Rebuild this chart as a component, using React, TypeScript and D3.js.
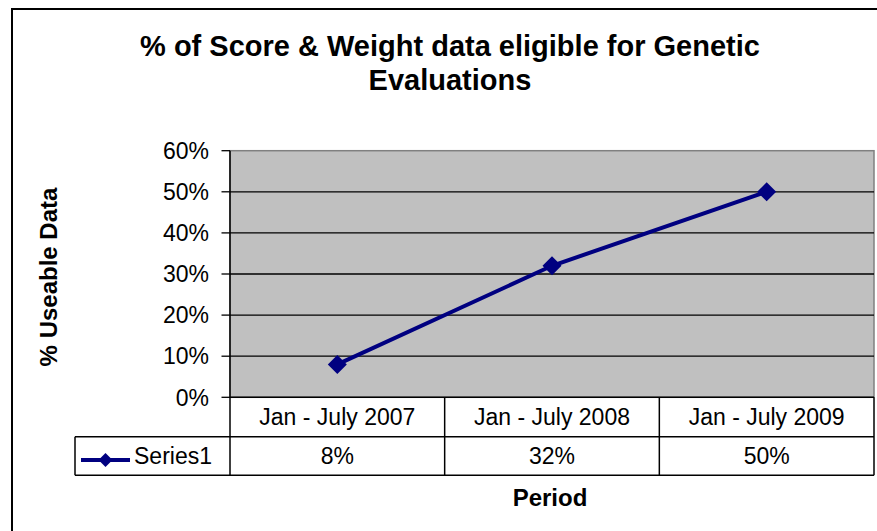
import React from "react";
import * as d3 from "d3";

const categories = ["Jan - July 2007", "Jan - July 2008", "Jan - July 2009"];
const series1 = [0.08, 0.32, 0.5];
const seriesName = "Series1";
const yTicks = [0, 0.1, 0.2, 0.3, 0.4, 0.5, 0.6];
const titleLines = ["% of Score & Weight data eligible for Genetic", "Evaluations"];
const yAxisTitle = "% Useable Data";
const xAxisTitle = "Period";

const W = 877;
const H = 531;
const plotL = 230;
const plotR = 874;
const plotT = 150.7;
const plotB = 397.3;
const row1B = 436.7;
const row2B = 475.3;
const legendL = 75;
const NAVY = "#000080";
const FONT = "'Liberation Sans', Arial, sans-serif";

export default function App() {
  const x = d3.scaleBand<string>().domain(categories).range([plotL, plotR]).padding(0);
  const y = d3.scaleLinear().domain([0, 0.6]).range([plotB, plotT]);
  const fmt = d3.format(".0%");
  const line = d3
    .line<number>()
    .x((_, i) => (x(categories[i]) as number) + x.bandwidth() / 2)
    .y((d) => y(d));
  const diamond = (cx: number, cy: number, r: number) =>
    `M${cx},${cy - r}L${cx + r},${cy}L${cx},${cy + r}L${cx - r},${cy}Z`;
  const colEdges = categories.map((c) => x(c) as number).concat([plotR]);

  return (
    <svg
      width={W}
      height={H}
      style={{ position: "absolute", left: 0, top: 0, background: "#fff" }}
      fontFamily={FONT}
    >
      {/* outer frame */}
      <rect x={12} y={9} width={W + 20} height={H + 20} fill="#fff" stroke="#000" strokeWidth={2} />

      {/* title */}
      {titleLines.map((t, i) => (
        <text key={i} x={450} y={56 + i * 34} textAnchor="middle" fontSize={29} fontWeight="bold" fill="#000">
          {t}
        </text>
      ))}

      {/* plot area */}
      <rect x={plotL} y={plotT} width={plotR - plotL} height={plotB - plotT} fill="#c0c0c0" stroke="#808080" strokeWidth={1.5} />
      {yTicks.slice(1, -1).map((t) => (
        <line key={t} x1={plotL} x2={plotR} y1={y(t)} y2={y(t)} stroke="#000" strokeWidth={1.3} />
      ))}

      {/* y axis */}
      <line x1={plotL} x2={plotL} y1={plotT} y2={row2B} stroke="#000" strokeWidth={1.5} />
      {yTicks.map((t) => (
        <g key={t}>
          <line x1={plotL - 8.5} x2={plotL} y1={y(t)} y2={y(t)} stroke="#000" strokeWidth={1.3} />
          <text x={209} y={y(t)} dy="0.36em" textAnchor="end" fontSize={23} fill="#000">
            {fmt(t)}
          </text>
        </g>
      ))}

      {/* y axis title */}
      <text
        transform={`translate(57,${277}) rotate(-90)`}
        textAnchor="middle"
        fontSize={24}
        fontWeight="bold"
        fill="#000"
      >
        {yAxisTitle}
      </text>

      {/* series line */}
      <path d={line(series1) || ""} fill="none" stroke={NAVY} strokeWidth={4} />
      {series1.map((v, i) => (
        <path
          key={i}
          d={diamond((x(categories[i]) as number) + x.bandwidth() / 2, y(v), 9.5)}
          fill={NAVY}
        />
      ))}

      {/* data table */}
      <line x1={plotL} x2={plotR} y1={plotB} y2={plotB} stroke="#000" strokeWidth={1.5} />
      <line x1={legendL} x2={plotR} y1={row1B} y2={row1B} stroke="#000" strokeWidth={1.5} />
      <line x1={legendL} x2={plotR} y1={row2B} y2={row2B} stroke="#000" strokeWidth={1.5} />
      <line x1={legendL} x2={legendL} y1={row1B} y2={row2B} stroke="#000" strokeWidth={1.5} />
      {colEdges.slice(1).map((cx, i) => (
        <line key={i} x1={cx} x2={cx} y1={plotB} y2={row2B} stroke="#000" strokeWidth={1.5} />
      ))}
      {categories.map((c, i) => (
        <g key={c}>
          <text
            x={(x(c) as number) + x.bandwidth() / 2}
            y={(plotB + row1B) / 2}
            dy="0.36em"
            textAnchor="middle"
            fontSize={23}
            fill="#000"
          >
            {c}
          </text>
          <text
            x={(x(c) as number) + x.bandwidth() / 2}
            y={(row1B + row2B) / 2}
            dy="0.36em"
            textAnchor="middle"
            fontSize={23}
            fill="#000"
          >
            {fmt(series1[i])}
          </text>
        </g>
      ))}

      {/* legend key */}
      <line x1={81} x2={130} y1={460} y2={460} stroke={NAVY} strokeWidth={4} />
      <path d={diamond(105.5, 460, 7)} fill={NAVY} />
      <text x={134} y={(row1B + row2B) / 2} dy="0.36em" fontSize={23} fill="#000">
        {seriesName}
      </text>

      {/* x axis title */}
      <text x={550} y={506} textAnchor="middle" fontSize={24} fontWeight="bold" fill="#000">
        {xAxisTitle}
      </text>
    </svg>
  );
}
